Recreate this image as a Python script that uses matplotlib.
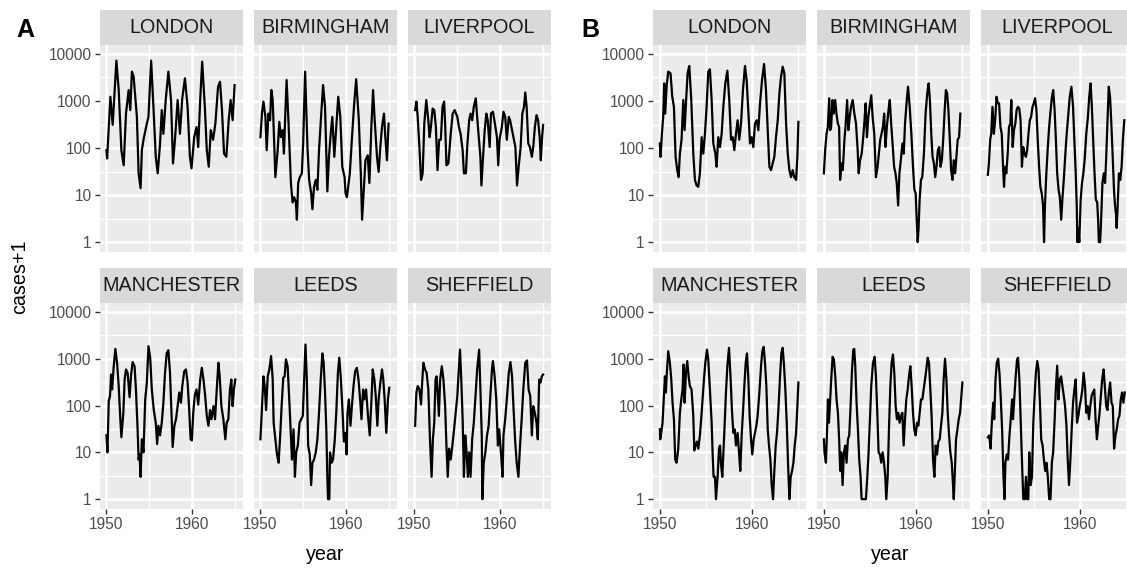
import numpy as np
import matplotlib
matplotlib.use("Agg")
import matplotlib.pyplot as plt
from matplotlib.ticker import FixedLocator, NullFormatter

plt.rcParams['font.family'] = ['Liberation Sans', 'DejaVu Sans']

# ---- data (year, cases+1) ----
cities = ["LONDON", "BIRMINGHAM", "LIVERPOOL", "MANCHESTER", "LEEDS", "SHEFFIELD"]

# panel A
a_london_year = [1950.0, 1950.08, 1950.46, 1950.73, 1950.85, 1951.16, 1951.43, 1951.74, 1952.01, 1952.28,
                 1952.59, 1952.78, 1952.97, 1953.17, 1953.55, 1953.75, 1953.98, 1954.13, 1954.32, 1954.71,
                 1954.9, 1955.21, 1955.48, 1955.75, 1955.98, 1956.25, 1956.45, 1956.64, 1956.91, 1957.22,
                 1957.53, 1957.76, 1957.99, 1958.3, 1958.57, 1958.84, 1959.15, 1959.46, 1959.73, 1959.92,
                 1960.23, 1960.5, 1960.7, 1960.93, 1961.16, 1961.47, 1961.7, 1961.93, 1962.16, 1962.43,
                 1962.7, 1963.01, 1963.24, 1963.47, 1963.71, 1963.98, 1964.25, 1964.48, 1964.71, 1964.94]
a_london_cases = [90, 60, 1230, 310, 750, 7200, 1710, 90, 43, 540,
                  1710, 640, 4200, 3290, 460, 29, 14, 90, 150, 330,
                  460, 7200, 750, 65, 29, 125, 640, 200, 1050, 4200,
                  1050, 47, 150, 1050, 200, 1140, 3030, 750, 65, 37,
                  170, 280, 105, 1050, 6870, 750, 90, 40, 240, 150,
                  330, 2010, 2570, 640, 76, 65, 390, 1050, 390, 2180]

a_birmingham_year = [1950.0, 1950.19, 1950.35, 1950.58, 1950.73, 1950.93, 1951.12, 1951.27, 1951.43, 1951.74,
                     1952.01, 1952.2, 1952.39, 1952.59, 1952.74, 1952.9, 1953.05, 1953.28, 1953.55, 1953.75,
                     1953.94, 1954.13, 1954.25, 1954.4, 1954.59, 1954.83, 1954.98, 1955.21, 1955.48, 1955.68,
                     1955.91, 1956.06, 1956.25, 1956.45, 1956.64, 1956.83, 1957.14, 1957.3, 1957.53, 1957.8,
                     1957.99, 1958.19, 1958.38, 1958.61, 1958.84, 1959.07, 1959.31, 1959.54, 1959.81, 1959.92,
                     1960.08, 1960.23, 1960.42, 1960.7, 1960.93, 1961.16, 1961.47, 1961.7, 1961.85, 1962.05,
                     1962.24, 1962.51, 1962.7, 1962.93, 1963.13, 1963.32, 1963.59, 1963.78, 1963.98, 1964.17,
                     1964.4, 1964.56, 1964.75, 1964.94]
a_birmingham_cases = [170, 590, 970, 460, 90, 540, 390, 1710, 1050, 24,
                      90, 360, 170, 240, 76, 540, 2790, 330, 18, 7,
                      9, 7, 3, 18, 24, 29, 125, 4200, 105, 21,
                      11, 5, 15, 21, 13, 90, 750, 2180, 750, 12,
                      65, 200, 460, 65, 280, 1230, 460, 40, 24, 11,
                      9, 15, 29, 200, 890, 2900, 390, 29, 3, 13,
                      55, 70, 18, 280, 1710, 390, 65, 31, 105, 280,
                      540, 170, 55, 330]

a_liverpool_year = [1950.08, 1950.23, 1950.38, 1950.58, 1950.77, 1950.96, 1951.15, 1951.38, 1951.62, 1951.77,
                    1951.92, 1952.12, 1952.31, 1952.5, 1952.69, 1952.88, 1953.08, 1953.27, 1953.46, 1953.58,
                    1953.73, 1953.96, 1954.23, 1954.46, 1954.69, 1955.0, 1955.19, 1955.38, 1955.62, 1955.77,
                    1956.0, 1956.15, 1956.38, 1956.54, 1956.73, 1956.92, 1957.15, 1957.31, 1957.5, 1957.69,
                    1957.81, 1958.0, 1958.19, 1958.38, 1958.54, 1958.77, 1958.92, 1959.15, 1959.38, 1959.62,
                    1959.77, 1959.92, 1960.19, 1960.38, 1960.58, 1960.77, 1961.0, 1961.15, 1961.38, 1961.54,
                    1961.77, 1961.96, 1962.15, 1962.38, 1962.58, 1962.77, 1962.92, 1963.08, 1963.27, 1963.46,
                    1963.69, 1963.85, 1964.04, 1964.23, 1964.42, 1964.62, 1964.73, 1964.88, 1965.0]
a_liverpool_cases = [640, 970, 460, 105, 21, 29, 330, 1050, 390, 170,
                     280, 690, 640, 280, 34, 150, 150, 750, 970, 330,
                     43, 47, 200, 540, 640, 460, 280, 200, 90, 29,
                     29, 105, 390, 540, 390, 750, 1140, 460, 170, 65,
                     16, 65, 240, 540, 390, 105, 540, 590, 330, 170,
                     43, 150, 280, 590, 460, 150, 460, 390, 240, 170,
                     105, 16, 40, 105, 540, 750, 1520, 750, 125, 105,
                     65, 105, 280, 500, 390, 150, 55, 170, 310]

a_manchester_year = [1950.0, 1950.12, 1950.27, 1950.42, 1950.54, 1950.66, 1950.85, 1951.04, 1951.24, 1951.43,
                     1951.62, 1951.74, 1951.97, 1952.12, 1952.28, 1952.47, 1952.7, 1952.86, 1953.05, 1953.28,
                     1953.44, 1953.63, 1953.75, 1953.86, 1953.98, 1954.13, 1954.32, 1954.52, 1954.71, 1954.9,
                     1955.1, 1955.29, 1955.52, 1955.75, 1955.91, 1956.06, 1956.25, 1956.45, 1956.64, 1956.83,
                     1957.03, 1957.22, 1957.41, 1957.61, 1957.72, 1957.92, 1958.11, 1958.3, 1958.49, 1958.69,
                     1958.84, 1959.07, 1959.27, 1959.46, 1959.65, 1959.81, 1959.96, 1960.12, 1960.31, 1960.5,
                     1960.7, 1960.93, 1961.12, 1961.31, 1961.51, 1961.7, 1961.89, 1962.08, 1962.24, 1962.47,
                     1962.66, 1962.86, 1963.05, 1963.2, 1963.4, 1963.63, 1963.86, 1964.02, 1964.21, 1964.4,
                     1964.56, 1964.71, 1964.86, 1965.02]
a_manchester_cases = [23, 10, 125, 160, 460, 220, 690, 1620, 820, 260,
                      51, 21, 70, 360, 590, 500, 150, 420, 850, 690,
                      220, 32, 7, 9, 3, 19, 10, 135, 310, 1850,
                      1050, 220, 80, 43, 15, 37, 23, 43, 115, 500,
                      1330, 1520, 500, 51, 13, 37, 51, 97, 190, 115,
                      260, 540, 590, 310, 80, 19, 18, 70, 170, 220,
                      105, 360, 640, 360, 160, 60, 37, 80, 51, 97,
                      51, 220, 820, 420, 97, 51, 19, 43, 51, 220,
                      360, 97, 220, 360]

a_leeds_year = [1950.0, 1950.15, 1950.35, 1950.5, 1950.66, 1950.85, 1951.04, 1951.24, 1951.43, 1951.54,
                1951.74, 1951.93, 1952.12, 1952.32, 1952.47, 1952.66, 1952.82, 1952.97, 1953.17, 1953.36,
                1953.55, 1953.67, 1953.86, 1954.02, 1954.17, 1954.36, 1954.56, 1954.75, 1954.94, 1955.1,
                1955.25, 1955.41, 1955.56, 1955.75, 1955.91, 1956.06, 1956.25, 1956.45, 1956.64, 1956.83,
                1957.03, 1957.22, 1957.37, 1957.53, 1957.68, 1957.8, 1957.88, 1958.03, 1958.11, 1958.3,
                1958.46, 1958.65, 1958.84, 1959.03, 1959.19, 1959.38, 1959.58, 1959.73, 1959.92, 1960.04,
                1960.15, 1960.31, 1960.5, 1960.66, 1960.85, 1961.04, 1961.24, 1961.43, 1961.62, 1961.78,
                1961.97, 1962.12, 1962.32, 1962.51, 1962.74, 1962.93, 1963.09, 1963.28, 1963.44, 1963.63,
                1963.78, 1963.98, 1964.17, 1964.32, 1964.48, 1964.67, 1964.86, 1965.02]
a_leeds_cases = [19, 70, 420, 260, 80, 420, 590, 1140, 360, 43,
                 19, 9, 6, 26, 97, 390, 420, 970, 690, 135,
                 23, 7, 31, 3, 10, 14, 43, 51, 60, 360,
                 2010, 360, 14, 9, 2, 6, 7, 10, 19, 70,
                 360, 1300, 820, 190, 31, 3, 1, 1, 10, 6,
                 7, 17, 70, 500, 1050, 360, 70, 17, 26, 9,
                 70, 135, 37, 97, 260, 540, 640, 360, 135, 51,
                 220, 135, 220, 70, 23, 115, 590, 360, 160, 37,
                 135, 310, 590, 360, 135, 26, 135, 240]

a_sheffield_year = [1950.08, 1950.23, 1950.38, 1950.58, 1950.77, 1950.88, 1951.04, 1951.23, 1951.42, 1951.62,
                    1951.81, 1952.0, 1952.15, 1952.31, 1952.46, 1952.58, 1952.69, 1952.85, 1953.0, 1953.19,
                    1953.38, 1953.58, 1953.73, 1953.88, 1954.04, 1954.23, 1954.42, 1954.62, 1954.81, 1955.0,
                    1955.15, 1955.31, 1955.46, 1955.62, 1955.77, 1955.92, 1956.08, 1956.23, 1956.38, 1956.54,
                    1956.73, 1956.92, 1957.12, 1957.31, 1957.54, 1957.69, 1957.85, 1957.92, 1958.08, 1958.27,
                    1958.46, 1958.65, 1958.85, 1959.04, 1959.15, 1959.35, 1959.54, 1959.73, 1959.88, 1960.08,
                    1960.27, 1960.38, 1960.58, 1960.77, 1961.0, 1961.19, 1961.38, 1961.54, 1961.73, 1961.92,
                    1962.12, 1962.31, 1962.5, 1962.69, 1962.92, 1963.12, 1963.31, 1963.5, 1963.69, 1963.85,
                    1964.04, 1964.23, 1964.38, 1964.54, 1964.69, 1964.85, 1965.0]
a_sheffield_cases = [37, 190, 260, 220, 105, 260, 820, 590, 500, 220,
                     19, 3, 19, 43, 360, 420, 220, 60, 360, 690,
                     360, 97, 14, 3, 12, 7, 14, 31, 70, 160,
                     500, 1560, 360, 51, 3, 23, 10, 3, 10, 3,
                     19, 43, 160, 590, 1560, 220, 23, 1, 6, 10,
                     23, 37, 160, 590, 890, 420, 135, 14, 31, 10,
                     3, 23, 51, 135, 500, 850, 420, 97, 19, 6,
                     3, 14, 51, 220, 820, 920, 220, 160, 23, 97,
                     70, 43, 19, 360, 310, 420, 460]

# panel B
b_london_year = [1950.0, 1950.07, 1950.22, 1950.36, 1950.47, 1950.58, 1950.73, 1950.91, 1951.16, 1951.35,
                 1951.53, 1951.71, 1951.89, 1952.04, 1952.18, 1952.36, 1952.55, 1952.69, 1952.84, 1953.02,
                 1953.2, 1953.42, 1953.64, 1953.82, 1954.0, 1954.18, 1954.36, 1954.55, 1954.73, 1954.91,
                 1955.09, 1955.27, 1955.45, 1955.64, 1955.82, 1956.04, 1956.18, 1956.36, 1956.55, 1956.73,
                 1956.91, 1957.13, 1957.35, 1957.56, 1957.75, 1957.93, 1958.11, 1958.29, 1958.47, 1958.65,
                 1958.84, 1959.05, 1959.27, 1959.45, 1959.67, 1959.82, 1960.0, 1960.18, 1960.36, 1960.55,
                 1960.73, 1960.91, 1961.13, 1961.35, 1961.56, 1961.75, 1961.93, 1962.11, 1962.29, 1962.47,
                 1962.65, 1962.84, 1963.02, 1963.2, 1963.38, 1963.56, 1963.75, 1963.93, 1964.11, 1964.29,
                 1964.47, 1964.65, 1964.84, 1964.98, 1965.09]
b_london_cases = [125, 65, 200, 460, 2370, 540, 2010, 4200, 3870, 1230,
                  750, 65, 34, 24, 76, 150, 1050, 240, 890, 3870,
                  5550, 1050, 76, 21, 16, 15, 29, 170, 76, 200,
                  750, 4200, 4710, 1050, 125, 76, 40, 170, 105, 200,
                  750, 2370, 4400, 1050, 150, 170, 90, 200, 390, 150,
                  330, 1710, 5550, 2790, 460, 125, 170, 105, 330, 390,
                  240, 890, 2790, 6120, 1710, 240, 40, 34, 47, 65,
                  170, 390, 1450, 3290, 5370, 3870, 330, 76, 34, 24,
                  34, 24, 21, 65, 360]

b_birmingham_year = [1950.0, 1950.14, 1950.29, 1950.43, 1950.58, 1950.69, 1950.79, 1950.94, 1951.08, 1951.23,
                     1951.37, 1951.52, 1951.66, 1951.77, 1951.91, 1952.06, 1952.24, 1952.38, 1952.53, 1952.67,
                     1952.82, 1952.96, 1953.14, 1953.32, 1953.5, 1953.68, 1953.79, 1953.94, 1954.12, 1954.26,
                     1954.4, 1954.55, 1954.69, 1954.84, 1954.98, 1955.16, 1955.31, 1955.49, 1955.67, 1955.85,
                     1955.99, 1956.14, 1956.28, 1956.43, 1956.57, 1956.71, 1956.86, 1957.04, 1957.18, 1957.33,
                     1957.51, 1957.65, 1957.8, 1957.94, 1958.09, 1958.23, 1958.38, 1958.56, 1958.7, 1958.84,
                     1959.03, 1959.17, 1959.35, 1959.53, 1959.71, 1959.86, 1960.0, 1960.11, 1960.22, 1960.32,
                     1960.43, 1960.58, 1960.72, 1960.9, 1961.08, 1961.26, 1961.41, 1961.55, 1961.7, 1961.84,
                     1961.99, 1962.13, 1962.27, 1962.42, 1962.56, 1962.71, 1962.85, 1963.0, 1963.14, 1963.29,
                     1963.43, 1963.57, 1963.72, 1963.86, 1964.01, 1964.15, 1964.3, 1964.44, 1964.58, 1964.73,
                     1964.87]
b_birmingham_cases = [29, 90, 200, 280, 1140, 240, 280, 1050, 540, 1050,
                      540, 330, 280, 21, 47, 34, 150, 330, 1050, 240,
                      460, 750, 1050, 540, 330, 90, 29, 55, 76, 150,
                      330, 890, 170, 460, 750, 1330, 460, 200, 24, 40,
                      76, 150, 200, 280, 540, 105, 280, 640, 1050, 330,
                      105, 40, 29, 18, 6, 29, 55, 125, 76, 330,
                      1050, 2010, 750, 200, 40, 13, 11, 3, 1, 2,
                      8, 21, 24, 76, 540, 1450, 2370, 1050, 200, 65,
                      47, 24, 40, 90, 105, 40, 55, 150, 540, 1710,
                      1450, 640, 150, 34, 21, 55, 29, 65, 150, 170,
                      540]

b_liverpool_year = [1950.0, 1950.11, 1950.25, 1950.36, 1950.5, 1950.65, 1950.79, 1950.94, 1951.08, 1951.22,
                    1951.37, 1951.51, 1951.65, 1951.76, 1951.87, 1952.01, 1952.16, 1952.3, 1952.45, 1952.55,
                    1952.7, 1952.84, 1952.99, 1953.13, 1953.27, 1953.42, 1953.56, 1953.71, 1953.85, 1953.99,
                    1954.14, 1954.28, 1954.42, 1954.57, 1954.71, 1954.86, 1955.0, 1955.14, 1955.29, 1955.43,
                    1955.58, 1955.72, 1955.86, 1956.01, 1956.12, 1956.22, 1956.37, 1956.51, 1956.65, 1956.8,
                    1956.98, 1957.12, 1957.27, 1957.41, 1957.55, 1957.7, 1957.84, 1957.99, 1958.13, 1958.27,
                    1958.42, 1958.56, 1958.74, 1958.92, 1959.1, 1959.28, 1959.42, 1959.57, 1959.68, 1959.75,
                    1959.86, 1959.96, 1960.11, 1960.25, 1960.4, 1960.54, 1960.72, 1960.9, 1961.04, 1961.19,
                    1961.33, 1961.47, 1961.62, 1961.76, 1961.91, 1962.01, 1962.09, 1962.23, 1962.34, 1962.48,
                    1962.63, 1962.77, 1962.88, 1963.02, 1963.17, 1963.31, 1963.45, 1963.6, 1963.74, 1963.85,
                    1963.96, 1964.03, 1964.14, 1964.28, 1964.42, 1964.57, 1964.71, 1964.86]
b_liverpool_cases = [27, 47, 150, 200, 750, 200, 390, 1230, 890, 890,
                     280, 200, 40, 15, 40, 29, 76, 280, 330, 1050,
                     105, 240, 330, 640, 750, 690, 390, 40, 105, 76,
                     65, 90, 200, 390, 460, 750, 890, 1140, 640, 150,
                     40, 15, 11, 6, 1, 6, 29, 90, 240, 540,
                     1230, 1710, 640, 150, 29, 13, 9, 3, 9, 21,
                     65, 170, 460, 1230, 2010, 750, 150, 29, 6, 1,
                     2, 1, 8, 18, 29, 55, 200, 460, 1230, 2370,
                     750, 150, 29, 8, 7, 3, 1, 1, 3, 18,
                     29, 18, 55, 330, 2010, 1230, 330, 65, 13, 6,
                     4, 2, 6, 29, 21, 40, 150, 390]

b_manchester_year = [1950.0, 1950.04, 1950.18, 1950.29, 1950.44, 1950.55, 1950.65, 1950.76, 1950.91, 1951.09,
                     1951.24, 1951.38, 1951.53, 1951.67, 1951.82, 1952.0, 1952.18, 1952.33, 1952.47, 1952.58,
                     1952.69, 1952.84, 1952.98, 1953.13, 1953.27, 1953.45, 1953.64, 1953.75, 1953.89, 1954.04,
                     1954.18, 1954.36, 1954.55, 1954.65, 1954.8, 1954.95, 1955.13, 1955.27, 1955.45, 1955.64,
                     1955.75, 1955.85, 1956.0, 1956.11, 1956.29, 1956.44, 1956.55, 1956.65, 1956.8, 1956.91,
                     1957.05, 1957.2, 1957.35, 1957.53, 1957.71, 1957.85, 1958.0, 1958.15, 1958.29, 1958.47,
                     1958.62, 1958.76, 1958.91, 1959.05, 1959.2, 1959.35, 1959.49, 1959.64, 1959.78, 1959.93,
                     1960.07, 1960.22, 1960.36, 1960.51, 1960.65, 1960.84, 1961.02, 1961.16, 1961.31, 1961.45,
                     1961.6, 1961.75, 1961.89, 1962.04, 1962.18, 1962.33, 1962.47, 1962.62, 1962.76, 1962.91,
                     1963.09, 1963.24, 1963.38, 1963.53, 1963.67, 1963.82, 1963.96, 1964.11, 1964.25, 1964.4,
                     1964.55, 1964.69, 1964.84, 1964.98, 1965.09]
b_manchester_cases = [31, 19, 29, 43, 160, 420, 190, 500, 1450, 820,
                      360, 115, 51, 7, 6, 12, 70, 135, 220, 750,
                      115, 500, 890, 420, 260, 220, 60, 11, 14, 17,
                      12, 23, 70, 135, 360, 820, 1560, 970, 220, 43,
                      9, 3, 3, 1, 3, 12, 14, 6, 3, 9,
                      37, 190, 690, 1710, 360, 80, 26, 31, 14, 26,
                      10, 4, 23, 70, 260, 820, 1300, 360, 60, 19,
                      9, 19, 26, 37, 60, 190, 690, 1450, 1790, 820,
                      260, 31, 14, 7, 2, 1, 4, 14, 26, 80,
                      420, 1330, 1710, 690, 220, 43, 6, 1, 3, 4,
                      6, 14, 26, 97, 310]

b_leeds_year = [1950.0, 1950.07, 1950.22, 1950.33, 1950.44, 1950.55, 1950.65, 1950.8, 1950.95, 1951.09,
                1951.24, 1951.38, 1951.53, 1951.67, 1951.78, 1951.89, 1952.04, 1952.18, 1952.33, 1952.47,
                1952.62, 1952.76, 1952.91, 1953.05, 1953.2, 1953.31, 1953.42, 1953.56, 1953.71, 1953.85,
                1954.0, 1954.11, 1954.25, 1954.44, 1954.58, 1954.73, 1954.87, 1955.02, 1955.16, 1955.35,
                1955.53, 1955.67, 1955.82, 1955.96, 1956.11, 1956.25, 1956.4, 1956.55, 1956.69, 1956.8,
                1956.95, 1957.09, 1957.24, 1957.38, 1957.53, 1957.67, 1957.82, 1957.96, 1958.11, 1958.25,
                1958.4, 1958.55, 1958.69, 1958.84, 1958.98, 1959.13, 1959.27, 1959.42, 1959.56, 1959.71,
                1959.85, 1960.0, 1960.15, 1960.29, 1960.44, 1960.58, 1960.73, 1960.87, 1961.02, 1961.16,
                1961.31, 1961.45, 1961.6, 1961.75, 1961.89, 1962.04, 1962.18, 1962.33, 1962.47, 1962.62,
                1962.76, 1962.91, 1963.05, 1963.2, 1963.35, 1963.49, 1963.64, 1963.78, 1963.93, 1964.07,
                1964.15, 1964.25, 1964.4, 1964.55, 1964.69, 1964.84, 1964.98, 1965.09]
b_leeds_cases = [19, 10, 6, 23, 135, 43, 97, 360, 1100, 970,
                 420, 135, 70, 17, 4, 10, 2, 10, 14, 6,
                 19, 23, 97, 500, 1560, 1620, 690, 115, 31, 7,
                 3, 1, 1, 1, 1, 3, 10, 51, 260, 820,
                 1100, 420, 70, 10, 9, 6, 10, 6, 3, 1,
                 3, 31, 260, 820, 1230, 500, 97, 51, 70, 43,
                 60, 70, 14, 51, 135, 220, 420, 690, 260, 70,
                 31, 23, 43, 37, 70, 135, 135, 220, 360, 590,
                 1050, 820, 220, 51, 7, 3, 14, 9, 17, 19,
                 37, 70, 360, 1000, 360, 70, 23, 10, 6, 2,
                 1, 3, 19, 31, 51, 70, 160, 310]

b_sheffield_year = [1950.0, 1950.14, 1950.29, 1950.43, 1950.58, 1950.69, 1950.83, 1950.97, 1951.12, 1951.26,
                    1951.41, 1951.55, 1951.7, 1951.81, 1951.91, 1952.06, 1952.2, 1952.35, 1952.49, 1952.64,
                    1952.74, 1952.89, 1953.03, 1953.18, 1953.29, 1953.43, 1953.57, 1953.72, 1953.86, 1954.01,
                    1954.15, 1954.26, 1954.4, 1954.51, 1954.66, 1954.8, 1954.95, 1955.09, 1955.23, 1955.38,
                    1955.52, 1955.67, 1955.81, 1955.96, 1956.1, 1956.25, 1956.39, 1956.53, 1956.68, 1956.82,
                    1956.97, 1957.11, 1957.26, 1957.4, 1957.55, 1957.69, 1957.83, 1957.98, 1958.12, 1958.27,
                    1958.41, 1958.56, 1958.7, 1958.84, 1958.99, 1959.13, 1959.28, 1959.42, 1959.57, 1959.71,
                    1959.86, 1960.0, 1960.14, 1960.29, 1960.43, 1960.58, 1960.72, 1960.87, 1961.01, 1961.16,
                    1961.3, 1961.44, 1961.59, 1961.73, 1961.88, 1962.02, 1962.17, 1962.31, 1962.45, 1962.6,
                    1962.74, 1962.89, 1963.03, 1963.18, 1963.32, 1963.47, 1963.61, 1963.75, 1963.9, 1964.04,
                    1964.19, 1964.33, 1964.48, 1964.62, 1964.77, 1964.91]
b_sheffield_cases = [21, 23, 12, 43, 115, 51, 360, 820, 1000, 500,
                     135, 31, 3, 1, 6, 9, 7, 23, 51, 135,
                     51, 160, 420, 970, 1050, 360, 51, 6, 1, 1,
                     3, 1, 1, 10, 2, 3, 43, 160, 500, 890,
                     590, 115, 19, 14, 7, 4, 6, 3, 1, 1,
                     6, 10, 43, 220, 710, 135, 360, 420, 260, 160,
                     97, 37, 7, 2, 7, 31, 115, 220, 360, 43,
                     60, 97, 135, 220, 500, 260, 70, 97, 51, 97,
                     160, 190, 220, 51, 19, 37, 70, 160, 360, 590,
                     260, 97, 80, 190, 310, 115, 97, 12, 23, 31,
                     51, 60, 135, 190, 115, 190]

panel_a = [(a_london_year, a_london_cases), (a_birmingham_year, a_birmingham_cases),
           (a_liverpool_year, a_liverpool_cases), (a_manchester_year, a_manchester_cases),
           (a_leeds_year, a_leeds_cases), (a_sheffield_year, a_sheffield_cases)]
panel_b = [(b_london_year, b_london_cases), (b_birmingham_year, b_birmingham_cases),
           (b_liverpool_year, b_liverpool_cases), (b_manchester_year, b_manchester_cases),
           (b_leeds_year, b_leeds_cases), (b_sheffield_year, b_sheffield_cases)]

y_breaks = [1, 10, 100, 1000, 10000]
x_breaks = [1950, 1960]

# ---- layout in pixels ----
W, H = 1127, 569
fig = plt.figure(figsize=(W / 100, H / 100), dpi=100)
fig.patch.set_facecolor("white")

cols_a = [(100, 243), (254, 397), (408, 551)]
cols_b = [(653, 806), (817, 970), (981, 1134)]
rows = [(45, 252), (303, 509)]
strips = [(10, 45), (268, 303)]


def px_axes(x0, x1, y0, y1):
    return fig.add_axes([x0 / W, 1 - y1 / H, (x1 - x0) / W, (y1 - y0) / H])


def draw_panel(cols, data):
    for i, name in enumerate(cities):
        r, c = divmod(i, 3)
        x0, x1 = cols[c]
        y0, y1 = rows[r]
        ax = px_axes(x0, x1, y0, y1)
        ax.set_facecolor("#EBEBEB")
        yr, cs = data[i]
        assert len(yr) == len(cs), name
        ax.plot(yr, cs, color="black", lw=1.6, solid_joinstyle="round")
        ax.set_yscale("log")
        ax.set_xlim(1949.25, 1965.92)
        ax.set_ylim(10 ** -0.21, 10 ** 4.19)
        ax.yaxis.set_major_locator(FixedLocator(y_breaks))
        ax.yaxis.set_minor_locator(FixedLocator([10 ** (k + 0.5) for k in range(-1, 5)]))
        ax.yaxis.set_minor_formatter(NullFormatter())
        ax.xaxis.set_major_locator(FixedLocator(x_breaks))
        ax.xaxis.set_minor_locator(FixedLocator([1945, 1955, 1965]))
        ax.set_yticklabels([str(v) for v in y_breaks])
        ax.grid(which="major", color="white", lw=1.8)
        ax.grid(which="minor", color="white", lw=0.9)
        ax.set_axisbelow(True)
        for s in ax.spines.values():
            s.set_visible(False)
        ax.tick_params(which="minor", length=0)
        ax.tick_params(which="major", length=3.5, width=1.0, color="#333333",
                       labelsize=11.2, labelcolor="#4D4D4D", pad=2.6)
        if c != 0:
            ax.tick_params(axis="y", length=0, labelleft=False)
        if r != 1:
            ax.tick_params(axis="x", length=0, labelbottom=False)

        # strip on top of the facet
        s0, s1 = strips[r]
        sax = px_axes(x0, x1, s0, s1)
        sax.set_facecolor("#D9D9D9")
        sax.set_xticks([])
        sax.set_yticks([])
        for s in sax.spines.values():
            s.set_visible(False)
        sax.text(0.5, 0.5, name, ha="center", va="center", fontsize=14.2,
                 color="#1A1A1A", transform=sax.transAxes, clip_on=True)


draw_panel(cols_a, panel_a)
draw_panel(cols_b, panel_b)

# titles and panel tags
fig.text(20 / W, 1 - 277 / H, "cases+1", rotation=90, ha="center", va="center", fontsize=14.2)
fig.text(325 / W, 1 - 555 / H, "year", ha="center", va="center", fontsize=14.2)
fig.text(890 / W, 1 - 555 / H, "year", ha="center", va="center", fontsize=14.2)
fig.text(25 / W, 1 - 30 / H, "A", ha="center", va="center", fontsize=18, fontweight="bold")
fig.text(590 / W, 1 - 30 / H, "B", ha="center", va="center", fontsize=18, fontweight="bold")

fig.savefig("out.png", dpi=100)
